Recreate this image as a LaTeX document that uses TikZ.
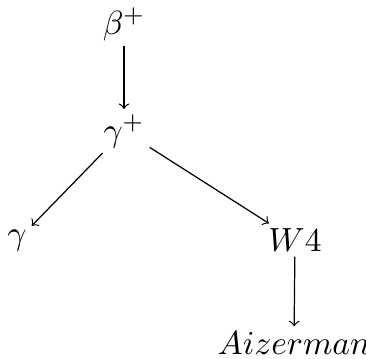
\documentclass[tikz,border=0pt]{standalone}
\begin{document}
\begin{tikzpicture}[x=0.3268pt,y=-0.3268pt,
  lbl/.style={inner sep=1.5pt,font=\fontsize{10.8}{13}\selectfont},
  arr/.style={->}]
\useasboundingbox (0,0) rectangle (366,359);
\node[lbl] (b) at (124,24) {$\beta^+$};
\node[lbl] (g) at (124,131) {$\gamma^+$};
\node[lbl] (gg) at (17,241) {$\gamma$};
\node[lbl] (w) at (295,240) {$W4$};
\node[lbl] (a) at (294,343) {$Aizerman$};
\draw[arr] (b) -- (g);
\draw[arr] (g) -- (gg);
\draw[arr] (g) -- (w);
\draw[arr] (w) -- (a);
\end{tikzpicture}
\end{document}
